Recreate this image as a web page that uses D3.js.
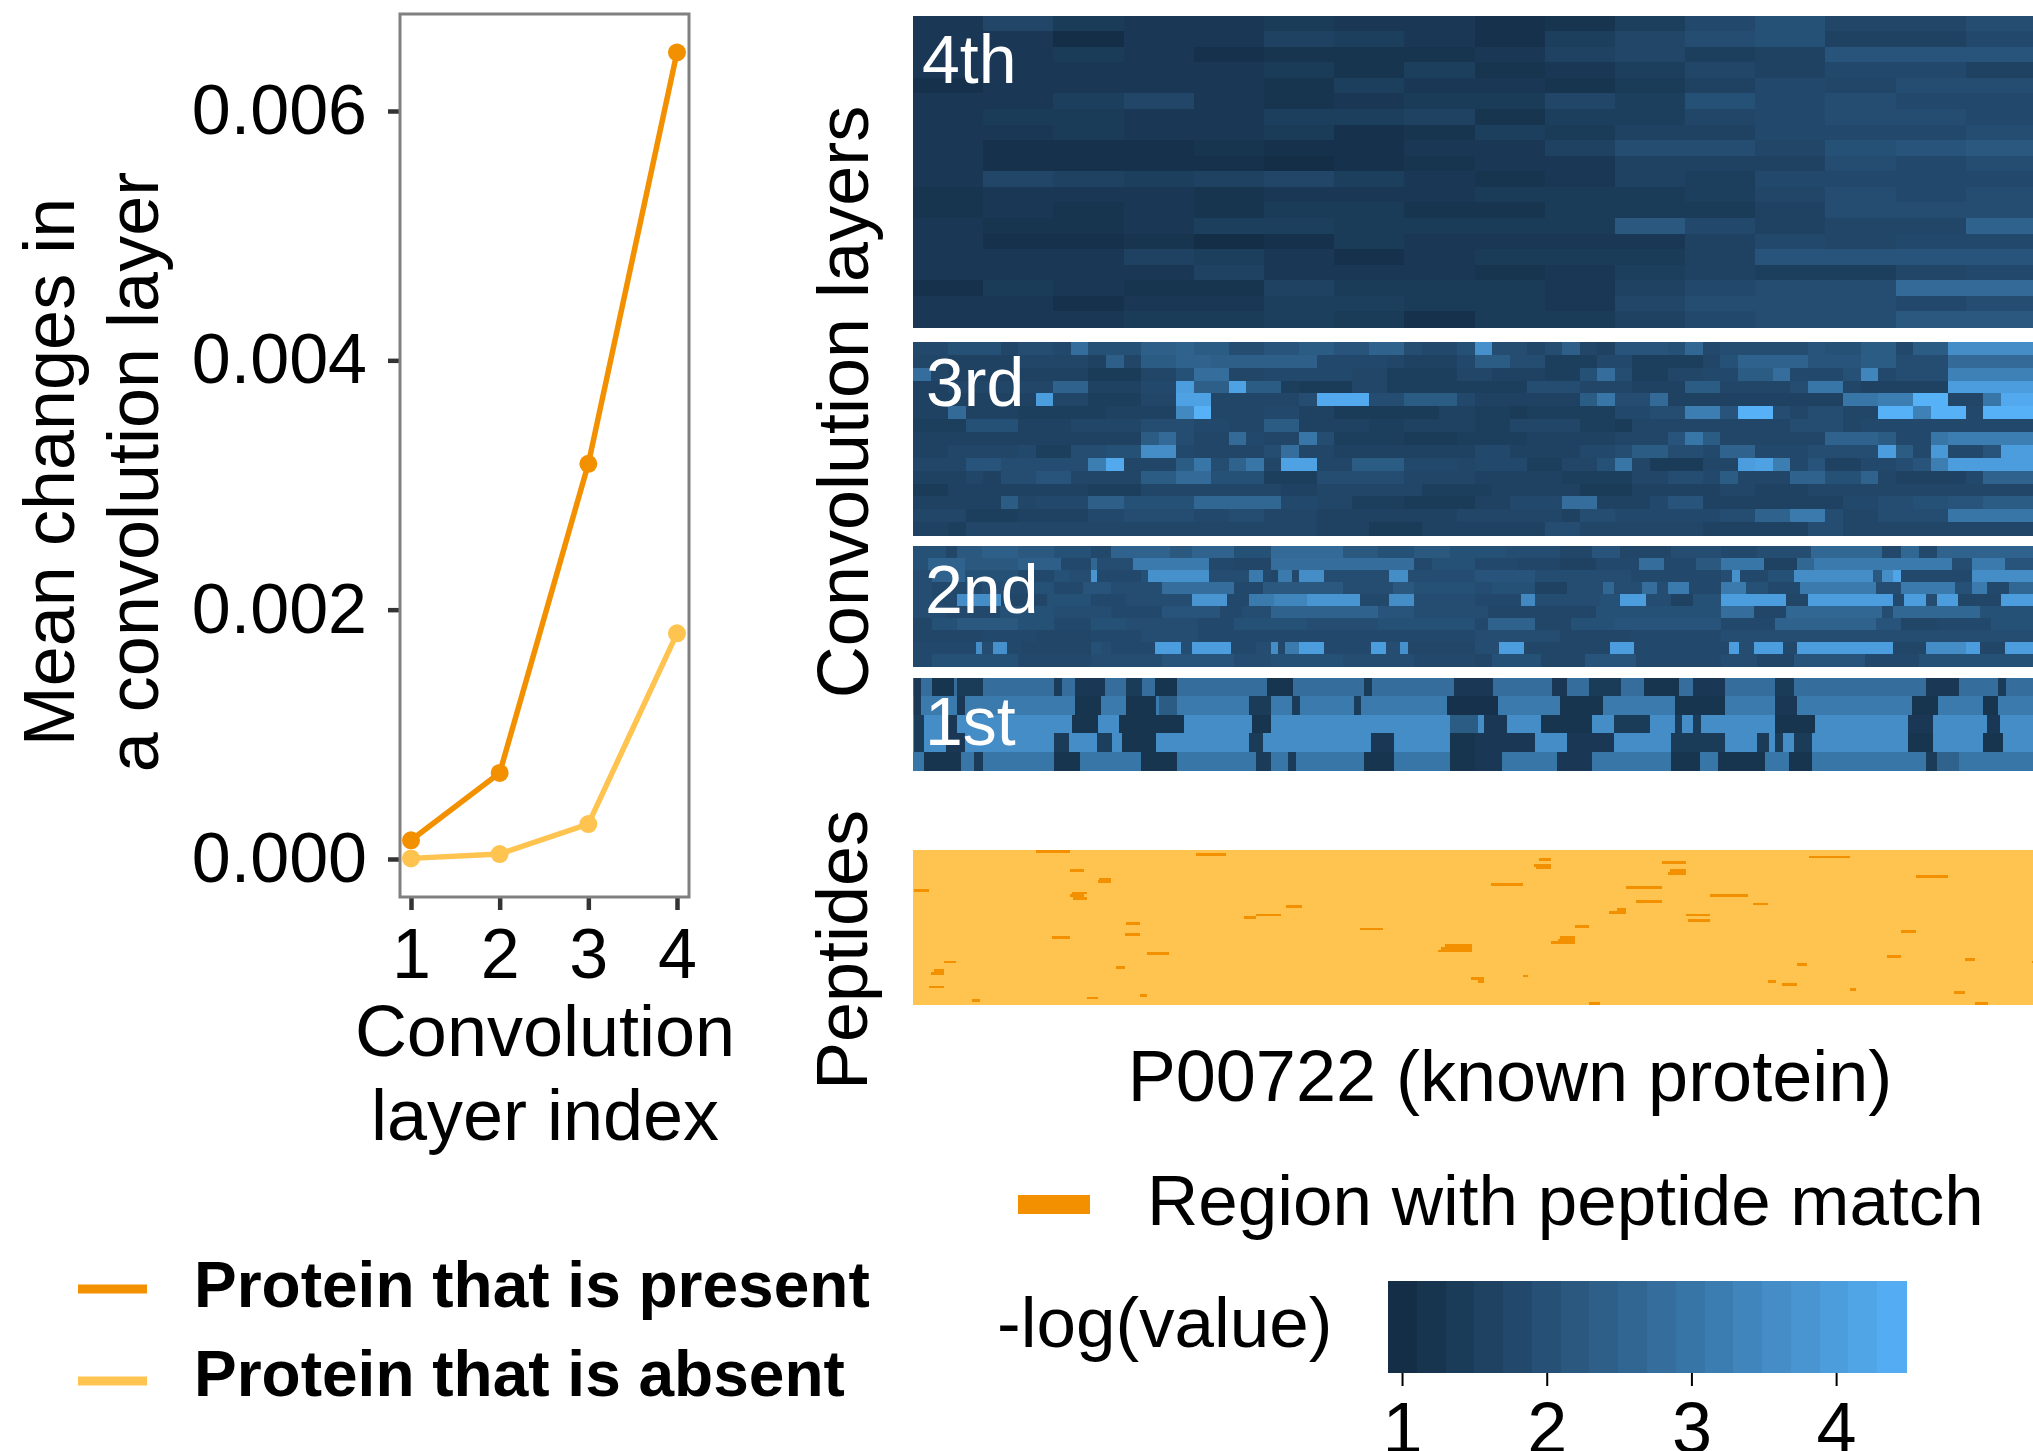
<!DOCTYPE html>
<html>
<head>
<meta charset="utf-8">
<script src="https://cdn.jsdelivr.net/npm/d3@7"></script>
<style>
  html, body { margin: 0; padding: 0; background: #fff; }
  svg { display: block; font-family: 'Liberation Sans', Arial, sans-serif; }
</style>
</head>
<body>
<div id="chart"></div>
<script>
// ── Left panel: mean change per convolution layer ──
const layerIndex   = [1, 2, 3, 4];
const presentMeans = [0.00015, 0.00069, 0.00317, 0.00647];
const absentMeans  = [0.000005, 0.00004, 0.00028, 0.00181];
const yTicks       = [0, 0.002, 0.004, 0.006];
const seriesNames  = ['Protein that is present', 'Protein that is absent'];

// ── Right panel: -log(value) per layer ──
// one character per cell, level = base-36 digit, value = 0.9 + 0.1 * level
const layer4Rows = [ // 16 columns x 64 residues
  '374334331258a779', '330336531579a668', '3343122236756bbb', '3333342523576886',
  '1333325332468799', '33573234475a8988', '3443355625578998', '3343341254668889',
  '3111211336997abc', '3111101233666989', '3765675323658888', '2333233344457989',
  '2323244224446999', '3223554444c8677f', '3112014333368788', '333653134446bbbb',
  '3333633323565578', '14322644436899hh', '3313355443799989', '33344541446899cc'
];
const layer3Rows = [ // 64 columns x 16 residues
  '557774665f 777bbcaa66 88aa88cc65 57o6646b43 8887d56666 6877aa5aan nnnn',
  '4433334444 3b4aaccbbb bbb5555433 35aa662225 5222247ccc c888aa666e eeee',
  'f433333333 111447ff44 5555544222 244333227f 6224455aaf 5557l5666k kkkk',
  '33444444cc 33355rbbsa a211144222 2222266644 4333aa4444 6hh433333r rrrr',
  '3333333r44 22244ss444 446uuu66aa a5333333ah 66e3333333 333hhjjxx4 4huu',
  '33e3332222 23333mx444 5533111111 3322122222 5566jj8xx6 46644xxkxx 5zzz',
  '2227773334 4446665544 aa33332233 3322444422 1444444444 6664555555 5555',
  '3333333333 333ae644e5 44h6222211 1222233333 4448ha4444 44ccca55hj jjjj',
  '3344445226 677nn54444 6f44333333 3355333355 6aa665cc55 56666ra5q5 58rr',
  '4448866666 ju444ah6ch 4ss44aaa55 5455522447 h411144rsj 58335568jr rrrr',
  '3334366884 444aaee777 2226666644 4433333222 244665a444 cc77c43333 5ccc',
  '1133333333 2224444444 4334444442 2223333311 1333334433 3444444444 4444',
  '33333a4555 bb7777dddd d554422211 1133555ff3 3358833333 3335566778 8aaa',
  '4442223333 5566665566 4443333333 3444444366 55555566cc ii6446666h hhhh',
  '3324444444 4444444444 4443331113 3333336644 4444433333 3664444444 4444'
];
// runs of [fromResidue, toResidue, level]
const layer2Rows = [
  [[0,30,'6'],[30,40,'3'],[40,63,'8'],[63,96,'a'],[96,129,'8'],[129,162,'6'],[162,181,'4'],[181,234,'b'],[234,254,'8'],[254,293,'b'],[293,326,'6'],[326,392,'d'],[392,424,'8'],[424,457,'6'],[457,490,'8'],[490,541,'6'],[541,590,'5'],[590,619,'3'],[619,645,'7'],[645,691,'3'],[691,737,'5'],[737,770,'4'],[770,819,'5'],[819,884,'c'],[884,901,'4'],[901,917,'c'],[917,934,'4'],[934,1024,'b']],
  [[0,14,'6'],[14,47,'b'],[47,96,'8'],[96,135,'a'],[135,162,'4'],[162,168,'c'],[168,201,'5'],[201,270,'h'],[270,293,'4'],[293,326,'3'],[326,457,'e'],[457,473,'4'],[473,512,'6'],[512,551,'4'],[551,590,'3'],[590,623,'2'],[623,662,'4'],[662,685,'e'],[685,714,'4'],[714,737,'8'],[737,776,'g'],[776,806,'2'],[806,822,'c'],[822,947,'h'],[947,966,'5'],[966,996,'h'],[996,1024,'7']],
  [[0,17,'5'],[17,47,'b'],[47,96,'6'],[96,129,'4'],[129,142,'6'],[142,162,'5'],[162,168,'o'],[168,208,'4'],[208,214,'6'],[214,270,'n'],[270,306,'5'],[306,319,'h'],[319,326,'4'],[326,333,'3'],[333,346,'h'],[346,352,'4'],[352,375,'m'],[375,434,'5'],[434,451,'m'],[451,512,'5'],[512,567,'7'],[567,655,'5'],[655,737,'4'],[737,747,'5'],[747,754,'n'],[754,780,'4'],[780,803,'6'],[803,875,'m'],[875,884,'8'],[884,894,'m'],[894,901,'s'],[901,966,'4'],[966,1024,'m']],
  [[0,17,'5'],[17,63,'4'],[63,89,'5'],[89,106,'4'],[106,129,'6'],[129,155,'4'],[155,181,'7'],[181,227,'5'],[227,293,'e'],[293,319,'4'],[319,392,'8'],[392,438,'5'],[438,457,'8'],[457,512,'6'],[512,528,'5'],[528,567,'6'],[567,596,'2'],[596,629,'5'],[629,639,'c'],[639,665,'5'],[665,678,'e'],[678,688,'5'],[688,708,'h'],[708,737,'4'],[737,760,'h'],[760,780,'6'],[780,809,'4'],[809,878,'h'],[878,901,'5'],[901,950,'h'],[950,966,'6'],[966,979,'h'],[979,999,'4'],[999,1024,'c']],
  [[0,17,'5'],[17,40,'4'],[40,80,'m'],[80,122,'3'],[122,162,'6'],[162,194,'4'],[194,254,'5'],[254,286,'o'],[286,306,'4'],[306,329,'h'],[329,359,'k'],[359,408,'o'],[408,434,'4'],[434,457,'m'],[457,512,'5'],[512,554,'4'],[554,567,'l'],[567,626,'5'],[626,645,'6'],[645,668,'q'],[668,691,'5'],[691,711,'2'],[711,737,'6'],[737,796,'q'],[796,816,'3'],[816,894,'q'],[894,904,'4'],[904,924,'q'],[924,934,'5'],[934,953,'q'],[953,992,'3'],[992,1024,'q']],
  [[0,30,'5'],[30,79,'4'],[79,129,'6'],[129,181,'5'],[181,227,'4'],[227,280,'7'],[280,300,'4'],[300,326,'5'],[326,424,'b'],[424,457,'7'],[457,524,'5'],[524,623,'3'],[623,737,'6'],[737,767,'e'],[767,796,'3'],[796,884,'c'],[884,894,'5'],[894,973,'c'],[973,1024,'6']],
  [[0,17,'3'],[17,40,'6'],[40,96,'8'],[96,129,'6'],[129,162,'4'],[162,194,'6'],[194,260,'5'],[260,293,'4'],[293,359,'6'],[359,424,'5'],[424,512,'6'],[512,524,'4'],[524,567,'b'],[567,600,'3'],[600,639,'6'],[639,737,'7'],[737,786,'4'],[786,878,'b'],[878,901,'7'],[901,934,'3'],[934,983,'4'],[983,1024,'6']],
  [[0,63,'3'],[63,112,'4'],[112,162,'3'],[162,208,'4'],[208,260,'5'],[260,512,'4'],[512,590,'5'],[590,655,'3'],[655,737,'4'],[737,1024,'5']],
  [[0,57,'4'],[57,63,'m'],[63,73,'5'],[73,86,'n'],[86,99,'4'],[99,162,'3'],[162,171,'6'],[171,181,'5'],[181,221,'4'],[221,244,'q'],[244,254,'5'],[254,290,'q'],[290,313,'4'],[313,326,'5'],[326,333,'m'],[333,339,'4'],[339,352,'h'],[352,375,'q'],[375,418,'4'],[418,431,'q'],[431,444,'5'],[444,451,'n'],[451,512,'3'],[512,534,'5'],[534,557,'q'],[557,636,'3'],[636,657,'q'],[657,744,'4'],[744,753,'q'],[753,767,'5'],[767,793,'q'],[793,806,'4'],[806,894,'q'],[894,924,'3'],[924,960,'m'],[960,973,'q'],[973,996,'3'],[996,1024,'q']],
  [[0,17,'4'],[17,96,'6'],[96,162,'4'],[162,227,'5'],[227,293,'7'],[293,326,'5'],[326,392,'6'],[392,457,'5'],[457,512,'4'],[512,528,'3'],[528,573,'6'],[573,613,'3'],[613,659,'7'],[659,737,'4'],[737,770,'5'],[770,803,'3'],[803,868,'7'],[868,917,'4'],[917,1024,'6']]
];
// 1st layer: a base level per row plus darker runs [from, to, level]
const layer1Base = ['j', 'm', 'r', 'r', 'l'];
const layer1Runs = [
  [[1,7,'4'],[17,37,'3'],[40,63,'5'],[129,135,'5'],[148,175,'4'],[194,208,'5'],[221,240,'3'],[323,346,'3'],[411,418,'5'],[493,528,'4'],[583,596,'4'],[616,645,'5'],[667,698,'3'],[711,740,'4'],[786,803,'5'],[924,953,'4'],[989,996,'5']],
  [[1,7,'4'],[40,47,'4'],[148,171,'3'],[194,221,'3'],[224,240,'e'],[306,326,'5'],[346,352,'5'],[402,408,'5'],[487,533,'2'],[590,629,'3'],[695,740,'3'],[786,806,'4'],[911,934,'3'],[976,989,'3']],
  [[1,10,'5'],[30,40,'4'],[145,168,'3'],[188,247,'3'],[309,326,'3'],[490,515,'e'],[521,541,'4'],[573,619,'3'],[639,672,'5'],[695,701,'5'],[711,718,'5'],[786,822,'3'],[907,930,'4'],[979,991,'4']],
  [[1,10,'5'],[30,47,'4'],[129,142,'5'],[168,181,'6'],[191,221,'3'],[306,319,'5'],[418,438,'4'],[490,512,'3'],[512,567,'4'],[596,639,'4'],[691,740,'5'],[770,780,'5'],[786,793,'5'],[803,819,'5'],[907,930,'3'],[976,993,'3']],
  [[10,43,'3'],[56,63,'5'],[129,152,'3'],[208,240,'3'],[313,326,'5'],[342,349,'5'],[411,438,'3'],[490,512,'3'],[512,537,'4'],[587,619,'4'],[691,717,'3'],[734,776,'3'],[799,819,'3'],[924,934,'5'],[934,953,'g']]
];
// the upper layers' levels were read a little too dark: per-layer correction, in value units
const readingBias = { layer4: 0.1, layer3: 0.4, layer2: 0.5, layer1: 0 };
// peptide matches: [fromResidue, toResidue, row]
const peptideHits = [
  [112,143,0],[258,285,1],[817,854,2],[571,582,3],[683,705,4],[566,582,5],[568,582,6],
  [143,156,7],[690,705,7],[688,705,8],[915,944,9],[170,181,10],[169,181,11],[527,556,12],
  [650,683,13],[1,15,14],[145,159,15],[143,156,16],[727,761,16],[146,159,17],[659,683,18],
  [766,780,19],[340,355,20],[642,650,21],[635,650,22],[313,336,23],[705,727,23],[302,313,24],
  [707,727,25],[194,207,26],[604,616,27],[408,429,28],[901,915,29],[193,207,30],[127,143,31],
  [590,604,31],[588,604,32],[582,604,33],[485,510,34],[481,510,35],[479,510,36],[213,233,37],
  [888,901,38],[959,968,39],[28,39,40],[1020,1024,40],[806,815,41],[185,193,42],[19,28,43],
  [16,28,44],[556,561,45],[509,521,46],[515,521,47],[780,787,47],[792,806,48],[15,28,49],
  [854,860,50],[949,959,51],[207,213,52],[159,169,53],[54,61,54],[968,980,55],[616,626,55]
];
const proteinLength = 1024;
const peptideRows = 56;
const layerNames = ['4th', '3rd', '2nd', '1st'];
const colorbarTicks = [1, 2, 3, 4];
const valueRange = [0.903, 4.483];

const COLORS = { present: '#F39000', absent: '#FEC44F', low: '#132B43', high: '#56B1F7' };
const FONT = "'Liberation Sans', Arial, sans-serif";

const level = (ch, bias = 0) => 0.9 + 0.1 * parseInt(ch, 36) + bias;

const W = 2033, H = 1451;
const svg = d3.select('#chart').append('svg')
  .attr('width', W).attr('height', H)
  .style('background', '#fff');

// ── Line chart ──
const xLine = d3.scaleLinear().domain([1, 4]).range([411, 677]);
const yLine = d3.scaleLinear().domain([0, 0.006]).range([859, 111]);

const yAxis = svg.append('g').attr('transform', 'translate(400,0)')
  .call(d3.axisLeft(yLine).tickValues(yTicks).tickFormat(d3.format('.3f')).tickSize(12).tickPadding(21));
const xAxis = svg.append('g').attr('transform', 'translate(0,897)')
  .call(d3.axisBottom(xLine).tickValues(layerIndex).tickFormat(d3.format('d')).tickSize(13).tickPadding(18));
[yAxis, xAxis].forEach(a => {
  a.select('.domain').remove();
  a.selectAll('.tick line').attr('stroke', '#333').attr('stroke-width', 4.5);
  a.selectAll('.tick text').attr('fill', '#000').style('font-size', '70px').style('font-family', FONT);
});

svg.append('rect')
  .attr('x', 400).attr('y', 14).attr('width', 289).attr('height', 883)
  .attr('fill', 'none').attr('stroke', '#808080').attr('stroke-width', 3);

const line = d3.line().x((d, i) => xLine(layerIndex[i])).y(d => yLine(d));
[[absentMeans, COLORS.absent], [presentMeans, COLORS.present]].forEach(([vals, col]) => {
  svg.append('path').datum(vals).attr('d', line)
    .attr('fill', 'none').attr('stroke', col).attr('stroke-width', 5.5);
  svg.selectAll(null).data(vals).enter().append('circle')
    .attr('cx', (d, i) => xLine(layerIndex[i])).attr('cy', d => yLine(d))
    .attr('r', 9).attr('fill', col);
});

const text = (x, y, str, size, opts = {}) => {
  const t = svg.append('text').attr('x', x).attr('y', y).text(str)
    .style('font-size', size + 'px').style('font-family', FONT)
    .attr('fill', opts.fill || '#000')
    .attr('text-anchor', opts.anchor || 'start');
  if (opts.bold) t.style('font-weight', 'bold');
  if (opts.rotate) t.attr('transform', `rotate(-90,${x},${y})`);
  return t;
};

text(545, 1056, 'Convolution', 72, { anchor: 'middle' });
text(545, 1140, 'layer index', 72, { anchor: 'middle' });
text(74, 472, 'Mean changes in', 72, { anchor: 'middle', rotate: true });
text(158, 472, 'a convolution layer', 72, { anchor: 'middle', rotate: true });

// legend of the line chart
[[COLORS.present, 1289, 1307], [COLORS.absent, 1381, 1396]].forEach(([col, ky, ty], i) => {
  svg.append('line').attr('x1', 78).attr('x2', 147).attr('y1', ky).attr('y2', ky)
    .attr('stroke', col).attr('stroke-width', 9);
  text(194, ty, seriesNames[i], 64, { bold: true });
});

// ── Heatmaps ──
const xRes = d3.scaleLinear().domain([0, proteinLength]).range([913, 2036]);
const fill = d3.scaleLinear().domain(valueRange).range([COLORS.low, COLORS.high])
  .interpolate(d3.interpolateLab).clamp(true);

const heat = svg.append('g').attr('shape-rendering', 'crispEdges');

function gridLayer(rows, top, bottom, bias) {
  const cells = rows.map(r => r.replace(/ /g, ''));
  const y = d3.scaleBand().domain(d3.range(cells.length)).range([top, bottom]);
  const span = proteinLength / cells[0].length;
  cells.forEach((row, i) => {
    heat.append('g').selectAll('rect').data(row.split('')).enter().append('rect')
      .attr('x', (d, j) => xRes(j * span))
      .attr('width', (d, j) => xRes((j + 1) * span) - xRes(j * span) + 0.5)
      .attr('y', y(i)).attr('height', y.bandwidth() + 0.5)
      .attr('fill', d => fill(level(d, bias)));
  });
}

function runLayer(rows, top, bottom, bias, base) {
  const y = d3.scaleBand().domain(d3.range(rows.length)).range([top, bottom]);
  rows.forEach((runs, i) => {
    if (base) {
      heat.append('rect').attr('x', xRes(0)).attr('width', xRes(proteinLength) - xRes(0))
        .attr('y', y(i)).attr('height', y.bandwidth() + 0.5).attr('fill', fill(level(base[i], bias)));
    }
    heat.append('g').selectAll('rect').data(runs).enter().append('rect')
      .attr('x', d => xRes(d[0]))
      .attr('width', d => xRes(d[1]) - xRes(d[0]) + 0.5)
      .attr('y', y(i)).attr('height', y.bandwidth() + 0.5)
      .attr('fill', d => fill(level(d[2], bias)));
  });
}

gridLayer(layer4Rows, 15.5, 327, readingBias.layer4);
gridLayer(layer3Rows, 342, 535, readingBias.layer3);
runLayer(layer2Rows, 546, 666, readingBias.layer2);
runLayer(layer1Runs, 678, 770, readingBias.layer1, layer1Base);

// peptides
const yPep = d3.scaleBand().domain(d3.range(peptideRows)).range([850, 1005]);
heat.append('rect').attr('x', xRes(0)).attr('width', xRes(proteinLength) - xRes(0))
  .attr('y', 850).attr('height', 155).attr('fill', COLORS.absent);
heat.append('g').selectAll('rect').data(peptideHits).enter().append('rect')
  .attr('x', d => xRes(d[0])).attr('width', d => xRes(d[1]) - xRes(d[0]))
  .attr('y', d => yPep(d[2])).attr('height', yPep.bandwidth())
  .attr('fill', COLORS.present);

// layer labels
[[922, 83], [926, 406], [925, 613], [925, 745]].forEach(([x, y], i) => {
  text(x, y, layerNames[i], 68, { fill: '#fff' });
});

text(868, 402, 'Convolution layers', 72, { anchor: 'middle', rotate: true });
text(867, 950, 'Peptides', 72, { anchor: 'middle', rotate: true });
text(1510, 1101, 'P00722 (known protein)', 72, { anchor: 'middle' });

// peptide legend
svg.append('rect').attr('x', 1018).attr('y', 1195).attr('width', 72).attr('height', 19)
  .attr('fill', COLORS.present);
text(1147, 1225, 'Region with peptide match', 71);

// colour bar
text(997, 1347, '-log(value)', 71);
const cbX = d3.scaleLinear().domain(valueRange).range([1388, 1906]);
const nBands = 18;
const bandEdges = d3.range(nBands + 1).map(i => valueRange[0] + (valueRange[1] - valueRange[0]) * i / nBands);
svg.append('g').attr('shape-rendering', 'crispEdges')
  .selectAll('rect').data(d3.pairs(bandEdges)).enter().append('rect')
  .attr('x', d => cbX(d[0])).attr('width', d => cbX(d[1]) - cbX(d[0]) + 0.5)
  .attr('y', 1281).attr('height', 92)
  .attr('fill', d => fill((d[0] + d[1]) / 2));
const cbAxis = svg.append('g').attr('transform', 'translate(0,1373)')
  .call(d3.axisBottom(cbX).tickValues(colorbarTicks).tickFormat(d3.format('d')).tickSize(13).tickPadding(16));
cbAxis.select('.domain').remove();
cbAxis.selectAll('.tick line').attr('stroke', '#000').attr('stroke-width', 2);
cbAxis.selectAll('.tick text').attr('fill', '#000').style('font-size', '72px').style('font-family', FONT);
</script>
</body>
</html>
